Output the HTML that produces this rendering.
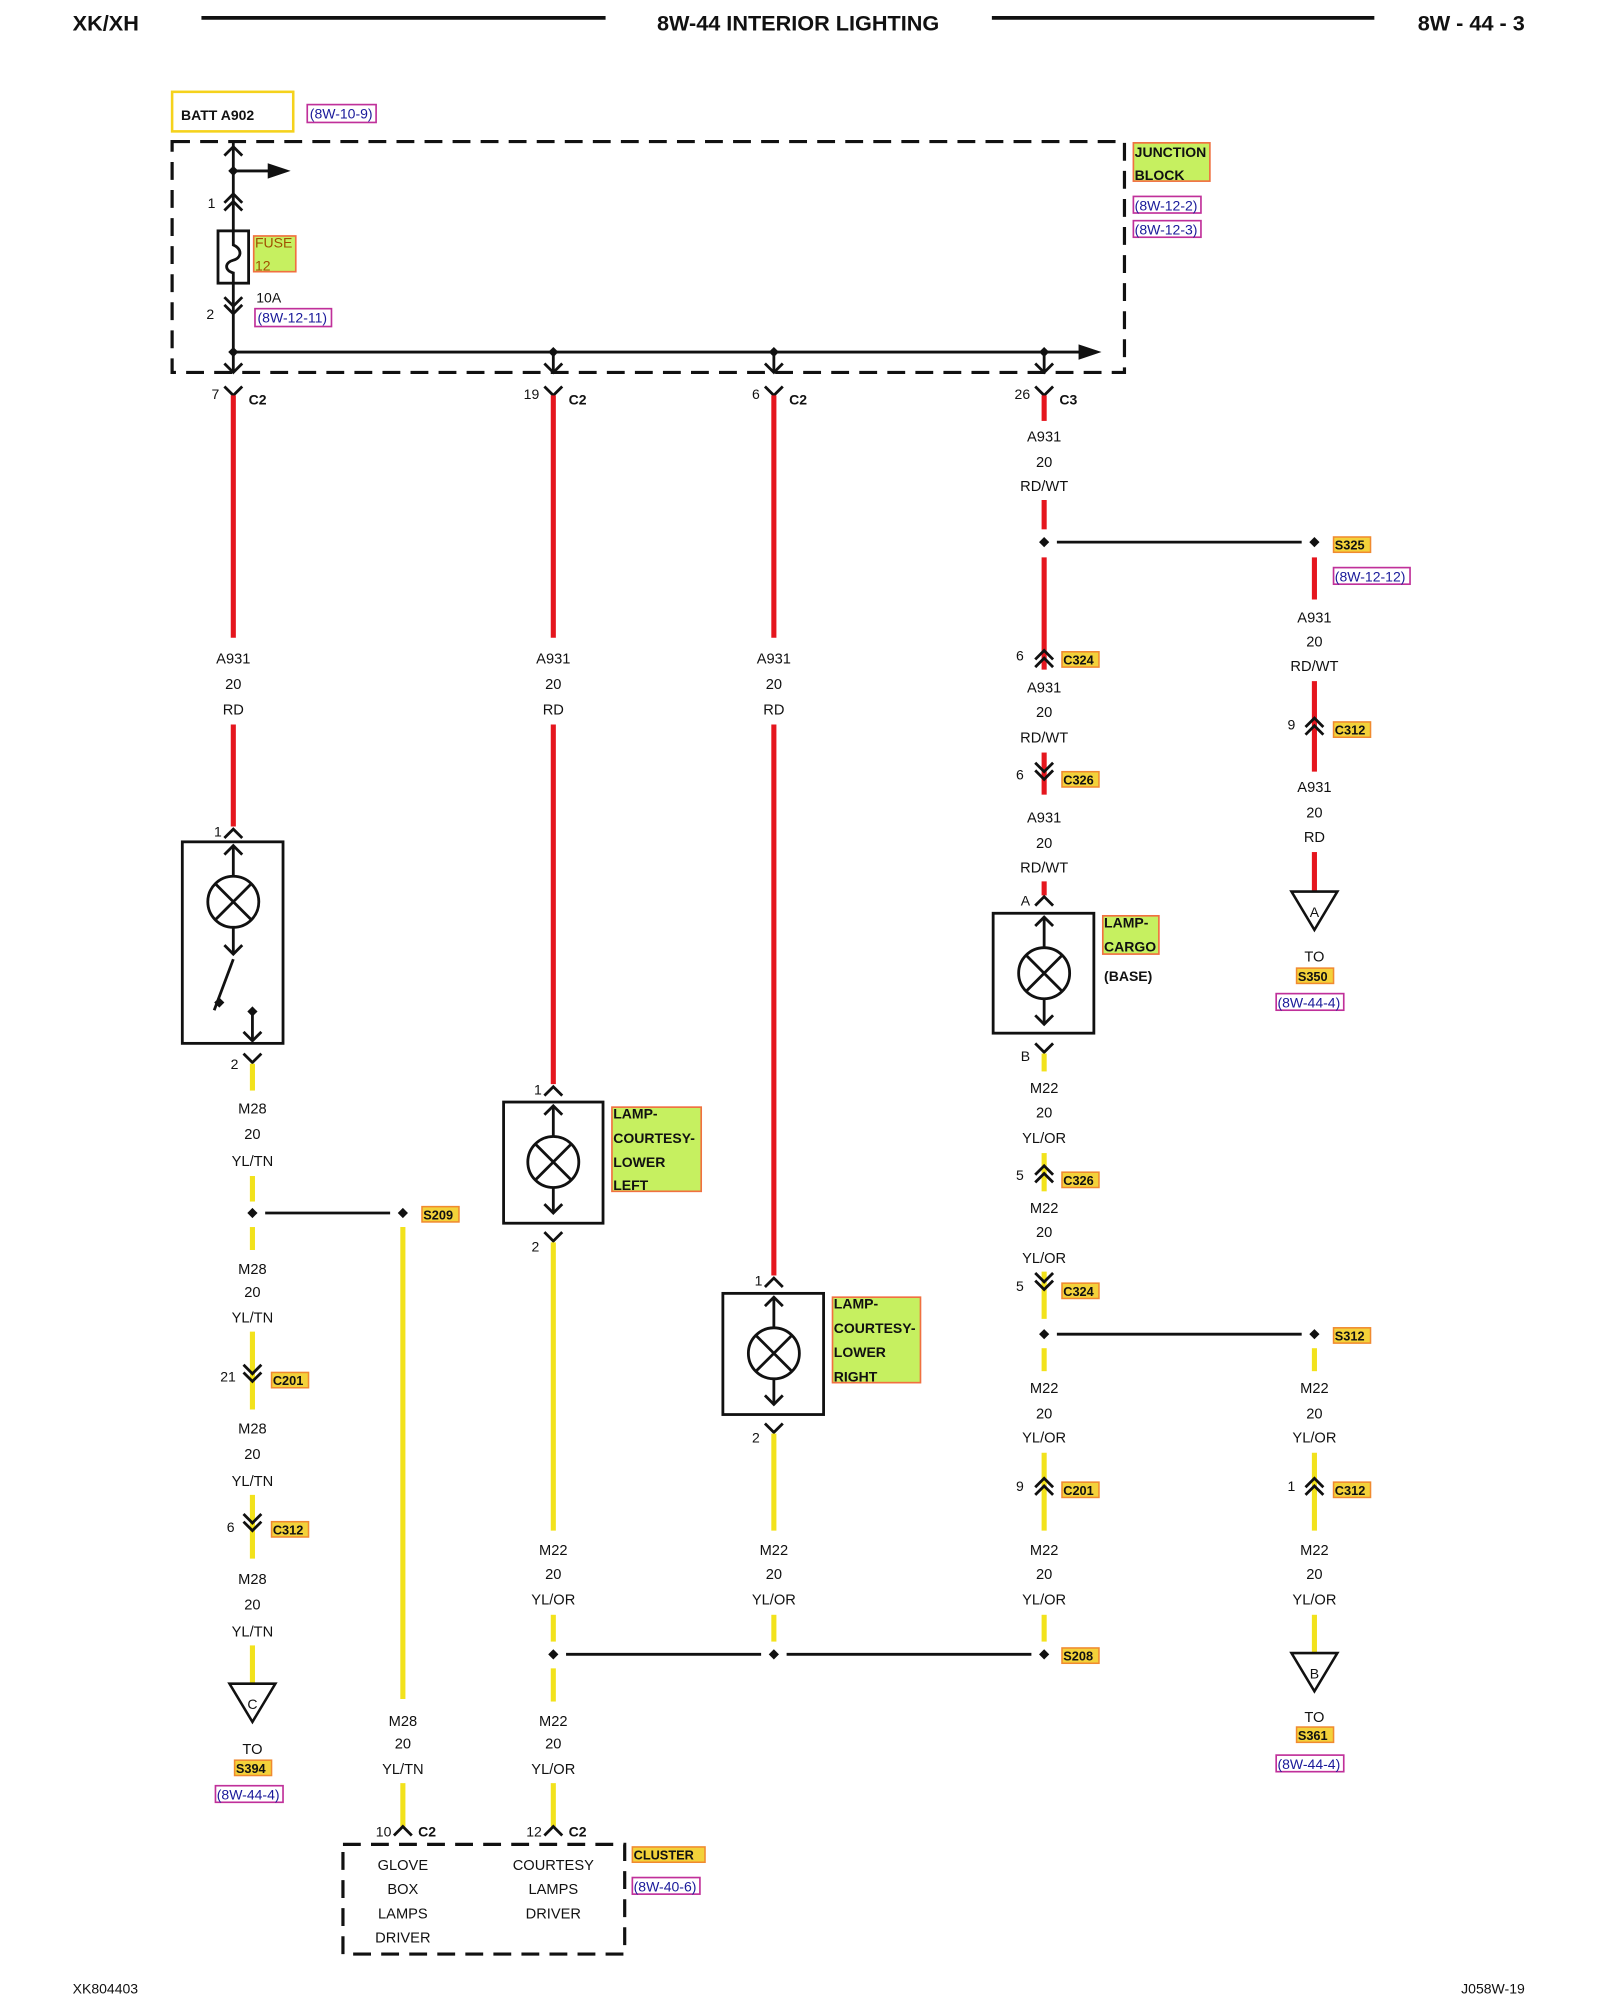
<!DOCTYPE html>
<html><head><meta charset="utf-8"><style>
html,body{margin:0;padding:0;background:#fff;}
svg{display:block;}
text{font-family:"Liberation Sans",sans-serif;fill:#111;}
.l{font-size:11.5px;text-anchor:middle;}
.n{font-size:11px;text-anchor:end;}
.b{font-size:11px;font-weight:bold;}
.r{stroke:#e5161e;stroke-width:4;}
.y{stroke:#f2e21c;stroke-width:4;}
.k{stroke:#111;stroke-width:2.2;fill:none;}
.ref{fill:#fff;stroke:#c0309a;stroke-width:1.3;}
.reft{font-size:11px;fill:#1a1a9a;}
.tag{fill:#f3d23a;stroke:#f08a30;stroke-width:1.2;}
.lab{fill:#c6f060;stroke:#f07040;stroke-width:1.3;}
</style></head><body>
<svg width="1600" height="2000" viewBox="0 0 1255 1568" preserveAspectRatio="none" xmlns="http://www.w3.org/2000/svg">
<defs>
<g id="up2"><path d="M-7,4 L0,-3 L7,4 M-7,10 L0,3 L7,10" stroke="#111" stroke-width="2.2" fill="none"/></g>
<g id="dn2"><path d="M-7,-4 L0,3 L7,-4 M-7,-10 L0,-3 L7,-10" stroke="#111" stroke-width="2.2" fill="none"/></g>
<g id="vv"><path d="M-7,-6 L0,1 L7,-6" stroke="#111" stroke-width="2.2" fill="none"/></g>
<g id="hat"><path d="M-7,6 L0,-1 L7,6" stroke="#111" stroke-width="2.2" fill="none"/></g>
<g id="dot"><path d="M0,-4 L4,0 L0,4 L-4,0Z" fill="#111"/></g>
<g id="bulb"><circle r="20" fill="none" stroke="#111" stroke-width="2.2"/><path d="M-14,-14 L14,14 M14,-14 L-14,14" stroke="#111" stroke-width="2.2"/></g>
</defs>

<!-- header -->
<text x="57" y="24" style="font-size:17px;font-weight:bold">XK/XH</text>
<line x1="158" y1="14" x2="475" y2="14" stroke="#111" stroke-width="3"/>
<text x="626" y="24" style="font-size:17px;font-weight:bold;text-anchor:middle">8W-44 INTERIOR LIGHTING</text>
<line x1="778" y1="14" x2="1078" y2="14" stroke="#111" stroke-width="3"/>
<text x="1196" y="24" style="font-size:17px;font-weight:bold;text-anchor:end">8W - 44 - 3</text>

<!-- batt -->
<rect x="135" y="72" width="95" height="31" fill="#fff" stroke="#f5d21c" stroke-width="2"/>
<text x="142" y="94" class="b">BATT A902</text>
<rect x="241" y="82" width="54" height="14" class="ref"/><text x="243" y="93" class="reft">(8W-10-9)</text>

<!-- junction block -->
<rect x="135" y="111" width="747" height="181" fill="none" stroke="#111" stroke-width="2.5" stroke-dasharray="14 8"/>
<rect x="889" y="112" width="60" height="30" class="lab"/>
<text x="890" y="123" class="b">JUNCTION</text><text x="890" y="141" class="b">BLOCK</text>
<rect x="889" y="154" width="53" height="13" class="ref"/><text x="890" y="165" class="reft">(8W-12-2)</text>
<rect x="889" y="173" width="53" height="13" class="ref"/><text x="890" y="184" class="reft">(8W-12-3)</text>
<line x1="183" y1="111" x2="183" y2="181" class="k"/>
<line x1="183" y1="222" x2="183" y2="292" class="k"/>
<use href="#hat" x="183" y="116"/>
<use href="#dot" x="183" y="134"/>
<line x1="183" y1="134" x2="212" y2="134" class="k"/>
<path d="M210,128 L228,134 L210,140Z" fill="#111"/>
<use href="#up2" x="183" y="155"/><text x="169" y="163" class="n">1</text>
<rect x="171" y="181" width="24" height="41" fill="#fff" stroke="#111" stroke-width="2.2"/>
<path d="M183,181 L183,192 C190,195 190,202 183,204 C176,206 176,212 183,214 L183,222" class="k"/>
<rect x="199" y="185" width="33" height="28" class="lab"/>
<text x="200" y="194" style="font-size:11px;fill:#a05000">FUSE</text><text x="200" y="212" style="font-size:11px;fill:#a05000">12</text>
<text x="201" y="237" style="font-size:11px">10A</text>
<use href="#dn2" x="183" y="243"/><text x="168" y="250" class="n">2</text>
<rect x="200" y="242" width="60" height="14" class="ref"/><text x="202" y="253" class="reft">(8W-12-11)</text>
<line x1="183" y1="276" x2="850" y2="276" class="k"/>
<path d="M846,270 L864,276 L846,282Z" fill="#111"/>
<use href="#dot" x="183" y="276"/><use href="#dot" x="434" y="276"/><use href="#dot" x="607" y="276"/><use href="#dot" x="819" y="276"/>
<line x1="434" y1="276" x2="434" y2="292" class="k"/><line x1="607" y1="276" x2="607" y2="292" class="k"/><line x1="819" y1="276" x2="819" y2="292" class="k"/>
<use href="#vv" x="183" y="291"/><use href="#vv" x="434" y="291"/><use href="#vv" x="607" y="291"/><use href="#vv" x="819" y="291"/>

<!-- C2 / C3 connectors -->
<use href="#vv" x="183" y="309"/><text x="172" y="313" class="n">7</text><text x="195" y="317" class="b">C2</text>
<use href="#vv" x="434" y="309"/><text x="423" y="313" class="n">19</text><text x="446" y="317" class="b">C2</text>
<use href="#vv" x="607" y="309"/><text x="596" y="313" class="n">6</text><text x="619" y="317" class="b">C2</text>
<use href="#vv" x="819" y="309"/><text x="808" y="313" class="n">26</text><text x="831" y="317" class="b">C3</text>

<!-- col 183/198 -->
<line x1="183" y1="310" x2="183" y2="500" class="r"/>
<text x="183" y="520" class="l">A931</text><text x="183" y="540" class="l">20</text><text x="183" y="560" class="l">RD</text>
<line x1="183" y1="568" x2="183" y2="648" class="r"/>
<use href="#hat" x="183" y="651"/><text x="174" y="656" class="n">1</text>
<rect x="143" y="660" width="79" height="158" fill="#fff" stroke="#111" stroke-width="2.2"/>
<use href="#hat" x="183" y="664"/><line x1="183" y1="664" x2="183" y2="687" class="k"/>
<use href="#bulb" x="183" y="707"/>
<line x1="183" y1="727" x2="183" y2="747" class="k"/><use href="#vv" x="183" y="747"/>
<line x1="183" y1="752" x2="168" y2="792" class="k"/>
<use href="#dot" x="172" y="786"/>
<use href="#dot" x="198" y="793"/><line x1="198" y1="793" x2="198" y2="816" class="k"/><use href="#vv" x="198" y="815"/>
<use href="#vv" x="198" y="832"/><text x="187" y="838" class="n">2</text>
<line x1="198" y1="834" x2="198" y2="855" class="y"/>
<text x="198" y="873" class="l">M28</text><text x="198" y="893" class="l">20</text><text x="198" y="914" class="l">YL/TN</text>
<line x1="198" y1="922" x2="198" y2="942" class="y"/>
<use href="#dot" x="198" y="951"/><line x1="208" y1="951" x2="306" y2="951" class="k"/><use href="#dot" x="316" y="951"/>
<rect x="331" y="946" width="29" height="12" class="tag"/><text x="332" y="956" class="b" style="font-size:10px">S209</text>
<line x1="316" y1="962" x2="316" y2="1332" class="y"/>
<line x1="198" y1="962" x2="198" y2="980" class="y"/>
<text x="198" y="999" class="l">M28</text><text x="198" y="1017" class="l">20</text><text x="198" y="1037" class="l">YL/TN</text>
<line x1="198" y1="1044" x2="198" y2="1105" class="y"/>
<use href="#dn2" x="198" y="1080"/><text x="185" y="1083" class="n">21</text>
<rect x="213" y="1076" width="29" height="12" class="tag"/><text x="214" y="1086" class="b" style="font-size:10px">C201</text>
<text x="198" y="1124" class="l">M28</text><text x="198" y="1144" class="l">20</text><text x="198" y="1165" class="l">YL/TN</text>
<line x1="198" y1="1172" x2="198" y2="1222" class="y"/>
<use href="#dn2" x="198" y="1197"/><text x="184" y="1201" class="n">6</text>
<rect x="213" y="1193" width="29" height="12" class="tag"/><text x="214" y="1203" class="b" style="font-size:10px">C312</text>
<text x="198" y="1242" class="l">M28</text><text x="198" y="1262" class="l">20</text><text x="198" y="1283" class="l">YL/TN</text>
<line x1="198" y1="1290" x2="198" y2="1320" class="y"/>
<path d="M180,1320 L216,1320 L198,1350Z" fill="#fff" stroke="#111" stroke-width="2"/>
<text x="198" y="1340" class="l" style="font-size:11px">C</text>
<text x="198" y="1375" class="l">TO</text>
<rect x="184" y="1380" width="29" height="12" class="tag"/><text x="185" y="1390" class="b" style="font-size:10px">S394</text>
<rect x="169" y="1400" width="53" height="13" class="ref"/><text x="170" y="1411" class="reft">(8W-44-4)</text>

<!-- col 434 -->
<line x1="434" y1="310" x2="434" y2="500" class="r"/>
<text x="434" y="520" class="l">A931</text><text x="434" y="540" class="l">20</text><text x="434" y="560" class="l">RD</text>
<line x1="434" y1="568" x2="434" y2="850" class="r"/>
<use href="#hat" x="434" y="853"/><text x="425" y="858" class="n">1</text>
<rect x="395" y="864" width="78" height="95" fill="#fff" stroke="#111" stroke-width="2.2"/>
<use href="#hat" x="434" y="868"/><line x1="434" y1="868" x2="434" y2="891" class="k"/>
<use href="#bulb" x="434" y="911"/>
<line x1="434" y1="931" x2="434" y2="950" class="k"/><use href="#vv" x="434" y="950"/>
<rect x="480" y="868" width="70" height="66" class="lab"/>
<text x="481" y="877" class="b">LAMP-</text><text x="481" y="896" class="b">COURTESY-</text><text x="481" y="915" class="b">LOWER</text><text x="481" y="933" class="b">LEFT</text>
<use href="#vv" x="434" y="972"/><text x="423" y="981" class="n">2</text>
<line x1="434" y1="974" x2="434" y2="1200" class="y"/>
<text x="434" y="1219" class="l">M22</text><text x="434" y="1238" class="l">20</text><text x="434" y="1258" class="l">YL/OR</text>
<line x1="434" y1="1266" x2="434" y2="1287" class="y"/>
<use href="#dot" x="434" y="1297"/><line x1="444" y1="1297" x2="597" y2="1297" class="k"/>
<use href="#dot" x="607" y="1297"/><line x1="617" y1="1297" x2="809" y2="1297" class="k"/>
<use href="#dot" x="819" y="1297"/>
<rect x="833" y="1292" width="29" height="12" class="tag"/><text x="834" y="1302" class="b" style="font-size:10px">S208</text>
<line x1="434" y1="1308" x2="434" y2="1334" class="y"/>
<text x="434" y="1353" class="l">M22</text><text x="434" y="1371" class="l">20</text><text x="434" y="1391" class="l">YL/OR</text>
<line x1="434" y1="1398" x2="434" y2="1432" class="y"/>
<use href="#hat" x="434" y="1433"/><text x="425" y="1440" class="n">12</text><text x="446" y="1440" class="b">C2</text>
<text x="316" y="1353" class="l">M28</text><text x="316" y="1371" class="l">20</text><text x="316" y="1391" class="l">YL/TN</text>
<line x1="316" y1="1398" x2="316" y2="1432" class="y"/>
<use href="#hat" x="316" y="1433"/><text x="307" y="1440" class="n">10</text><text x="328" y="1440" class="b">C2</text>
<rect x="269" y="1446" width="221" height="86" fill="none" stroke="#111" stroke-width="2.5" stroke-dasharray="14 8"/>
<text x="316" y="1466" class="l">GLOVE</text><text x="316" y="1485" class="l">BOX</text><text x="316" y="1504" class="l">LAMPS</text><text x="316" y="1523" class="l">DRIVER</text>
<text x="434" y="1466" class="l">COURTESY</text><text x="434" y="1485" class="l">LAMPS</text><text x="434" y="1504" class="l">DRIVER</text>
<rect x="496" y="1448" width="57" height="12" class="tag"/><text x="497" y="1458" class="b" style="font-size:10px">CLUSTER</text>
<rect x="496" y="1472" width="53" height="13" class="ref"/><text x="497" y="1483" class="reft">(8W-40-6)</text>

<!-- col 607 -->
<line x1="607" y1="310" x2="607" y2="500" class="r"/>
<text x="607" y="520" class="l">A931</text><text x="607" y="540" class="l">20</text><text x="607" y="560" class="l">RD</text>
<line x1="607" y1="568" x2="607" y2="1000" class="r"/>
<use href="#hat" x="607" y="1003"/><text x="598" y="1008" class="n">1</text>
<rect x="567" y="1014" width="79" height="95" fill="#fff" stroke="#111" stroke-width="2.2"/>
<use href="#hat" x="607" y="1018"/><line x1="607" y1="1018" x2="607" y2="1041" class="k"/>
<use href="#bulb" x="607" y="1061"/>
<line x1="607" y1="1081" x2="607" y2="1100" class="k"/><use href="#vv" x="607" y="1100"/>
<rect x="653" y="1017" width="69" height="67" class="lab"/>
<text x="654" y="1026" class="b">LAMP-</text><text x="654" y="1045" class="b">COURTESY-</text><text x="654" y="1064" class="b">LOWER</text><text x="654" y="1083" class="b">RIGHT</text>
<use href="#vv" x="607" y="1122"/><text x="596" y="1131" class="n">2</text>
<line x1="607" y1="1124" x2="607" y2="1200" class="y"/>
<text x="607" y="1219" class="l">M22</text><text x="607" y="1238" class="l">20</text><text x="607" y="1258" class="l">YL/OR</text>
<line x1="607" y1="1266" x2="607" y2="1287" class="y"/>

<!-- col 819 -->
<line x1="819" y1="310" x2="819" y2="330" class="r"/>
<text x="819" y="346" class="l">A931</text><text x="819" y="366" class="l">20</text><text x="819" y="385" class="l">RD/WT</text>
<line x1="819" y1="392" x2="819" y2="415" class="r"/>
<use href="#dot" x="819" y="425"/><line x1="829" y1="425" x2="1021" y2="425" class="k"/><use href="#dot" x="1031" y="425"/>
<rect x="1046" y="421" width="29" height="12" class="tag"/><text x="1047" y="431" class="b" style="font-size:10px">S325</text>
<rect x="1046" y="445" width="60" height="13" class="ref"/><text x="1047" y="456" class="reft">(8W-12-12)</text>
<line x1="819" y1="437" x2="819" y2="525" class="r"/>
<use href="#up2" x="819" y="513"/><text x="803" y="518" class="n">6</text>
<rect x="833" y="511" width="29" height="12" class="tag"/><text x="834" y="521" class="b" style="font-size:10px">C324</text>
<text x="819" y="543" class="l">A931</text><text x="819" y="562" class="l">20</text><text x="819" y="582" class="l">RD/WT</text>
<line x1="819" y1="590" x2="819" y2="623" class="r"/>
<use href="#dn2" x="819" y="608"/><text x="803" y="611" class="n">6</text>
<rect x="833" y="605" width="29" height="12" class="tag"/><text x="834" y="615" class="b" style="font-size:10px">C326</text>
<text x="819" y="645" class="l">A931</text><text x="819" y="665" class="l">20</text><text x="819" y="684" class="l">RD/WT</text>
<line x1="819" y1="691" x2="819" y2="702" class="r"/>
<use href="#hat" x="819" y="704"/><text x="808" y="710" class="n">A</text>
<rect x="779" y="716" width="79" height="94" fill="#fff" stroke="#111" stroke-width="2.2"/>
<use href="#hat" x="819" y="720"/><line x1="819" y1="720" x2="819" y2="743" class="k"/>
<use href="#bulb" x="819" y="763"/>
<line x1="819" y1="783" x2="819" y2="802" class="k"/><use href="#vv" x="819" y="802"/>
<rect x="865" y="718" width="44" height="30" class="lab"/>
<text x="866" y="727" class="b">LAMP-</text><text x="866" y="746" class="b">CARGO</text>
<text x="866" y="769" class="b">(BASE)</text>
<use href="#vv" x="819" y="824"/><text x="808" y="832" class="n">B</text>
<line x1="819" y1="826" x2="819" y2="840" class="y"/>
<text x="819" y="857" class="l">M22</text><text x="819" y="876" class="l">20</text><text x="819" y="896" class="l">YL/OR</text>
<line x1="819" y1="904" x2="819" y2="934" class="y"/>
<use href="#up2" x="819" y="917"/><text x="803" y="925" class="n">5</text>
<rect x="833" y="919" width="29" height="12" class="tag"/><text x="834" y="929" class="b" style="font-size:10px">C326</text>
<text x="819" y="951" class="l">M22</text><text x="819" y="970" class="l">20</text><text x="819" y="990" class="l">YL/OR</text>
<line x1="819" y1="997" x2="819" y2="1034" class="y"/>
<use href="#dn2" x="819" y="1008"/><text x="803" y="1012" class="n">5</text>
<rect x="833" y="1006" width="29" height="12" class="tag"/><text x="834" y="1016" class="b" style="font-size:10px">C324</text>
<use href="#dot" x="819" y="1046"/><line x1="829" y1="1046" x2="1021" y2="1046" class="k"/><use href="#dot" x="1031" y="1046"/>
<rect x="1046" y="1041" width="29" height="12" class="tag"/><text x="1047" y="1051" class="b" style="font-size:10px">S312</text>
<line x1="819" y1="1057" x2="819" y2="1075" class="y"/>
<text x="819" y="1092" class="l">M22</text><text x="819" y="1112" class="l">20</text><text x="819" y="1131" class="l">YL/OR</text>
<line x1="819" y1="1139" x2="819" y2="1200" class="y"/>
<use href="#up2" x="819" y="1162"/><text x="803" y="1169" class="n">9</text>
<rect x="833" y="1162" width="29" height="12" class="tag"/><text x="834" y="1172" class="b" style="font-size:10px">C201</text>
<text x="819" y="1219" class="l">M22</text><text x="819" y="1238" class="l">20</text><text x="819" y="1258" class="l">YL/OR</text>
<line x1="819" y1="1266" x2="819" y2="1287" class="y"/>

<!-- col 1031 -->
<line x1="1031" y1="437" x2="1031" y2="470" class="r"/>
<text x="1031" y="488" class="l">A931</text><text x="1031" y="507" class="l">20</text><text x="1031" y="526" class="l">RD/WT</text>
<line x1="1031" y1="534" x2="1031" y2="605" class="r"/>
<use href="#up2" x="1031" y="566"/><text x="1016" y="572" class="n">9</text>
<rect x="1046" y="566" width="29" height="12" class="tag"/><text x="1047" y="576" class="b" style="font-size:10px">C312</text>
<text x="1031" y="621" class="l">A931</text><text x="1031" y="641" class="l">20</text><text x="1031" y="660" class="l">RD</text>
<line x1="1031" y1="668" x2="1031" y2="699" class="r"/>
<path d="M1013,699 L1049,699 L1031,729Z" fill="#fff" stroke="#111" stroke-width="2"/>
<text x="1031" y="719" class="l" style="font-size:11px">A</text>
<text x="1031" y="754" class="l">TO</text>
<rect x="1017" y="759" width="29" height="12" class="tag"/><text x="1018" y="769" class="b" style="font-size:10px">S350</text>
<rect x="1001" y="779" width="53" height="13" class="ref"/><text x="1002" y="790" class="reft">(8W-44-4)</text>
<line x1="1031" y1="1057" x2="1031" y2="1075" class="y"/>
<text x="1031" y="1092" class="l">M22</text><text x="1031" y="1112" class="l">20</text><text x="1031" y="1131" class="l">YL/OR</text>
<line x1="1031" y1="1139" x2="1031" y2="1200" class="y"/>
<use href="#up2" x="1031" y="1162"/><text x="1016" y="1169" class="n">1</text>
<rect x="1046" y="1162" width="29" height="12" class="tag"/><text x="1047" y="1172" class="b" style="font-size:10px">C312</text>
<text x="1031" y="1219" class="l">M22</text><text x="1031" y="1238" class="l">20</text><text x="1031" y="1258" class="l">YL/OR</text>
<line x1="1031" y1="1266" x2="1031" y2="1296" class="y"/>
<path d="M1013,1296 L1049,1296 L1031,1326Z" fill="#fff" stroke="#111" stroke-width="2"/>
<text x="1031" y="1316" class="l" style="font-size:11px">B</text>
<text x="1031" y="1350" class="l">TO</text>
<rect x="1017" y="1354" width="29" height="12" class="tag"/><text x="1018" y="1364" class="b" style="font-size:10px">S361</text>
<rect x="1001" y="1376" width="53" height="13" class="ref"/><text x="1002" y="1387" class="reft">(8W-44-4)</text>

<!-- footer -->
<text x="57" y="1563" style="font-size:11px">XK804403</text>
<text x="1196" y="1563" style="font-size:11px;text-anchor:end">J058W-19</text>
</svg>
</body></html>
